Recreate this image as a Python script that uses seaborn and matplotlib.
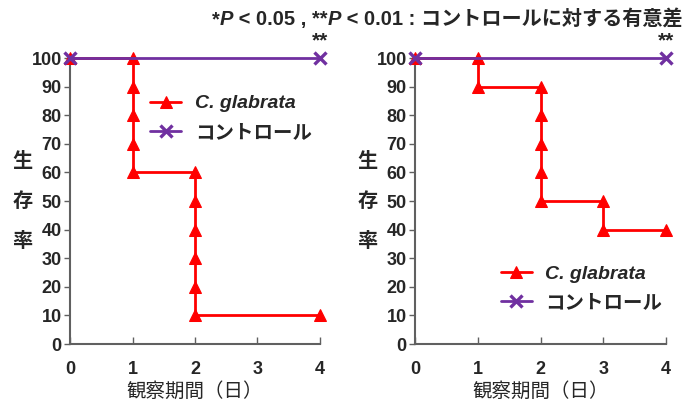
import seaborn as sns
import matplotlib.pyplot as plt

# data
days_left = [0, 1, 1, 1, 1, 1, 2, 2, 2, 2, 2, 2, 4]
surv_left = [100, 100, 90, 80, 70, 60, 60, 50, 40, 30, 20, 10, 10]
days_right = [0, 1, 1, 2, 2, 2, 2, 2, 3, 3, 4]
surv_right = [100, 100, 90, 90, 80, 70, 60, 50, 50, 40, 40]
days_ctrl = [0, 4]
surv_ctrl = [100, 100]

x_ticks = [0, 1, 2, 3, 4]
y_ticks = list(range(0, 101, 10))

sns.set_style('white')
plt.rcParams['font.family'] = ['Liberation Sans', 'Noto Sans CJK JP']

RED = '#FF0000'
PURPLE = '#7030A0'
SPINE = '#606060'

fig = plt.figure(figsize=(6.89, 4.04), dpi=100)
ax_l = fig.add_axes([70 / 689, 0.1485, 250 / 689, 0.7079])
ax_r = fig.add_axes([415 / 689, 0.1485, 251 / 689, 0.7079])


def draw(ax, days, surv, legend_loc):
    sns.lineplot(x=days, y=surv, ax=ax, sort=False, estimator=None,
                 color=RED, marker='^', markersize=9, markeredgecolor=RED,
                 linewidth=2, label='C. glabrata', clip_on=False, zorder=3)
    sns.lineplot(x=days_ctrl, y=surv_ctrl, ax=ax, sort=False, estimator=None,
                 color=PURPLE, marker='x', markersize=9, markeredgewidth=2.4,
                 markeredgecolor=PURPLE, linewidth=2, label='コントロール',
                 clip_on=False, zorder=4)
    ax.set_xlim(0, 4)
    ax.set_ylim(0, 100)
    ax.set_xticks(x_ticks, labels=[str(v) for v in x_ticks],
                  fontsize=13, fontweight='bold')
    ax.set_yticks(y_ticks, labels=[str(v) for v in y_ticks],
                  fontsize=13, fontweight='bold')
    ax.tick_params(axis='y', direction='out', length=4, width=1, color=SPINE,
                   pad=2, left=True)
    ax.tick_params(axis='x', direction='in', length=5, width=1, color=SPINE,
                   pad=12, bottom=True)
    for s in ['top', 'right']:
        ax.spines[s].set_visible(False)
    for s in ['left', 'bottom']:
        ax.spines[s].set_color(SPINE)
        ax.spines[s].set_linewidth(1.5)
    ax.set_xlabel('観察期間（日）', fontsize=14, fontweight='normal', labelpad=3)
    ax.set_ylabel('')
    ax.text(-0.19, 0.5, '生\n存\n率', transform=ax.transAxes, fontsize=14.5,
            fontweight='bold', ha='center', va='center', linespacing=2.4)
    ax.text(4, 102.5, '**', fontsize=15, fontweight='bold', ha='center',
            va='bottom')
    leg = ax.legend(loc=legend_loc, frameon=False, fontsize=14,
                    handlelength=1.6, handletextpad=0.7, labelspacing=0.6)
    leg.get_texts()[0].set_fontstyle('italic')
    for t in leg.get_texts():
        t.set_fontweight('bold')


draw(ax_l, days_left, surv_left, (0.29, 0.68))
draw(ax_r, days_right, surv_right, (0.31, 0.085))

# significance note, pieces placed one after another
parts = [('*', 'normal'), ('P', 'italic'), (' < 0.05 , **', 'normal'),
         ('P', 'italic'), (' < 0.01 : コントロールに対する有意差', 'normal')]
pieces = [fig.text(0, 0, txt, fontsize=14.5, fontweight='bold', fontstyle=st,
                   va='baseline') for txt, st in parts]
fig.canvas.draw()
r = fig.canvas.get_renderer()
x = 0.308 * fig.bbox.width
y = 0.938
for t in pieces:
    t.set_position((x / fig.bbox.width, y))
    x = t.get_window_extent(r).x1

fig.savefig('out.png', dpi=100)
